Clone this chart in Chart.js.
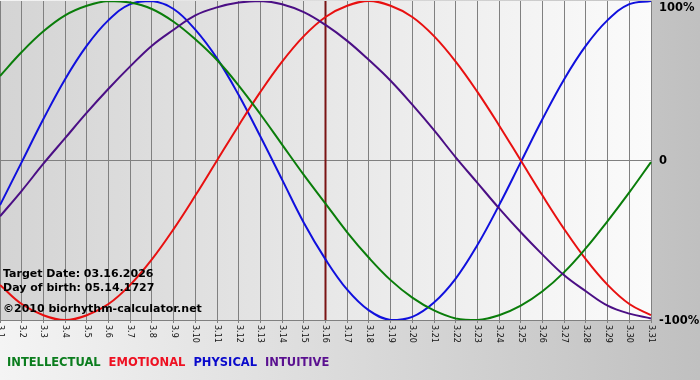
<!DOCTYPE html>
<html>
<head>
<meta charset="utf-8">
<script src="https://cdn.jsdelivr.net/npm/chart.js@4"></script>
<style>
  body { margin: 0; }
  #wrap {
    width: 700px; height: 380px; position: relative;
    background: linear-gradient(to right, #f4f4f4 0%, #c0c0c0 100%);
  }
</style>
</head>
<body>
<div id="wrap"><canvas id="bio" width="700" height="380"></canvas></div>
<script>
const days = ["3.1","3.2","3.3","3.4","3.5","3.6","3.7","3.8","3.9","3.10",
  "3.11","3.12","3.13","3.14","3.15","3.16","3.17","3.18","3.19","3.20",
  "3.21","3.22","3.23","3.24","3.25","3.26","3.27","3.28","3.29","3.30","3.31"];

const intellectual = [53,68,81,91,97,100,99,95,87,76,63,47,29,10,-9,-27,-45,-61,-75,-86,-94,-99,-100,-97,-91,-82,-70,-55,-38,-20,-1];
const emotional = [-78,-90,-97,-100,-97,-90,-78,-62,-43,-22,0,22,43,62,78,90,97,100,97,90,78,62,43,22,0,-22,-43,-62,-78,-90,-97];
const physical = [-28,-1,26,51,72,88,98,100,95,82,64,41,15,-12,-39,-62,-81,-94,-100,-98,-89,-74,-53,-28,-1,26,51,72,88,98,100];
const intuitive = [-35,-19,-2,14,30,45,59,72,82,91,96,99,100,98,93,85,75,63,50,35,19,2,-14,-30,-45,-59,-72,-82,-91,-96,-99];

const yTicks = [100, 0, -100];
const yTickLabels = ["100%", "0", "-100%"];
const targetDay = "3.16";
const infoLines = ["Target Date: 03.16.2026", "Day of birth: 05.14.1727", "\u00a92010 biorhythm-calculator.net"];
const legendNames = ["INTELLECTUAL", "EMOTIONAL", "PHYSICAL", "INTUITIVE"];
const legendColors = ["#0b7d1e", "#ee1122", "#0a0acc", "#5a1090"];

const bold = (s) => "bold " + s + "px 'DejaVu Sans', Verdana, sans-serif";

const decor = {
  id: "decor",
  beforeDraw(chart) {
    const { ctx, chartArea: a } = chart;
    const g = ctx.createLinearGradient(a.left, 0, a.right, 0);
    g.addColorStop(0, "#d4d4d4");
    g.addColorStop(1, "#fbfbfb");
    ctx.save();
    ctx.fillStyle = g;
    ctx.fillRect(a.left, a.top, a.right - a.left, a.bottom - a.top);
    ctx.restore();
  },
  beforeDatasetsDraw(chart) {
    const { ctx, chartArea: a } = chart;
    const x = chart.scales.x.getPixelForValue(days.indexOf(targetDay));
    ctx.save();
    ctx.strokeStyle = "#7a1414";
    ctx.lineWidth = 2;
    ctx.beginPath();
    ctx.moveTo(x, a.top);
    ctx.lineTo(x, a.bottom);
    ctx.stroke();
    ctx.restore();
  },
  afterDraw(chart) {
    const { ctx, chartArea: a } = chart;
    const xs = chart.scales.x, ys = chart.scales.y;
    ctx.save();
    // day labels, turned clockwise
    ctx.fillStyle = "#111";
    ctx.font = "8px 'DejaVu Sans', Verdana, sans-serif";
    ctx.textAlign = "left";
    ctx.textBaseline = "middle";
    days.forEach((d, i) => {
      ctx.save();
      ctx.translate(xs.getPixelForTick(i), a.bottom + 5);
      ctx.rotate(Math.PI / 2);
      ctx.fillText(d, 0, 0);
      ctx.restore();
    });
    // right side percent labels
    ctx.font = bold(11.5);
    ctx.fillStyle = "#000";
    yTicks.forEach((v, i) => {
      const y = Math.min(Math.max(ys.getPixelForValue(v), a.top + 6), a.bottom);
      ctx.fillText(yTickLabels[i], a.right + 8, y + 1);
    });
    // info text
    ctx.font = bold(11);
    ctx.textBaseline = "alphabetic";
    ctx.fillText(infoLines[0], 3, 277);
    ctx.fillText(infoLines[1], 3, 290.5);
    ctx.fillText(infoLines[2], 3, 311.5);
    // legend
    ctx.font = bold(11.5);
    let lx = 7;
    legendNames.forEach((n, i) => {
      ctx.fillStyle = legendColors[i];
      ctx.fillText(n, lx, 366);
      lx += ctx.measureText(n).width + 8;
    });
    ctx.restore();
  }
};

const line = (label, data, color) => ({
  label, data, borderColor: color, borderWidth: 2,
  pointRadius: 0, tension: 0.4, fill: false
});

new Chart(document.getElementById("bio"), {
  type: "line",
  data: {
    labels: days,
    datasets: [
      line("Intuitive", intuitive, "#4b0f85"),
      line("Intellectual", intellectual, "#0a7d0a"),
      line("Emotional", emotional, "#e81010"),
      line("Physical", physical, "#1010dd")
    ]
  },
  options: {
    responsive: false,
    animation: false,
    layout: { padding: { top: 1, left: 0, right: 0, bottom: 0 } },
    plugins: { legend: { display: false }, tooltip: { enabled: false } },
    scales: {
      x: {
        offset: false,
        grid: { color: "#808080", lineWidth: 1, tickLength: 3 },
        border: { display: true, color: "#808080" },
        ticks: { display: false },
        afterFit: (s) => { s.height = 60; }
      },
      y: {
        position: "right",
        min: -100, max: 100,
        afterBuildTicks: (s) => { s.ticks = yTicks.map((v) => ({ value: v })); },
        grid: {
          drawTicks: false,
          color: (c) => (c.tick && c.tick.value === 0 ? "#808080" : "transparent")
        },
        border: { display: false },
        ticks: { display: false },
        afterFit: (s) => { s.width = 49; }
      }
    }
  },
  plugins: [decor]
});
</script>
</body>
</html>
